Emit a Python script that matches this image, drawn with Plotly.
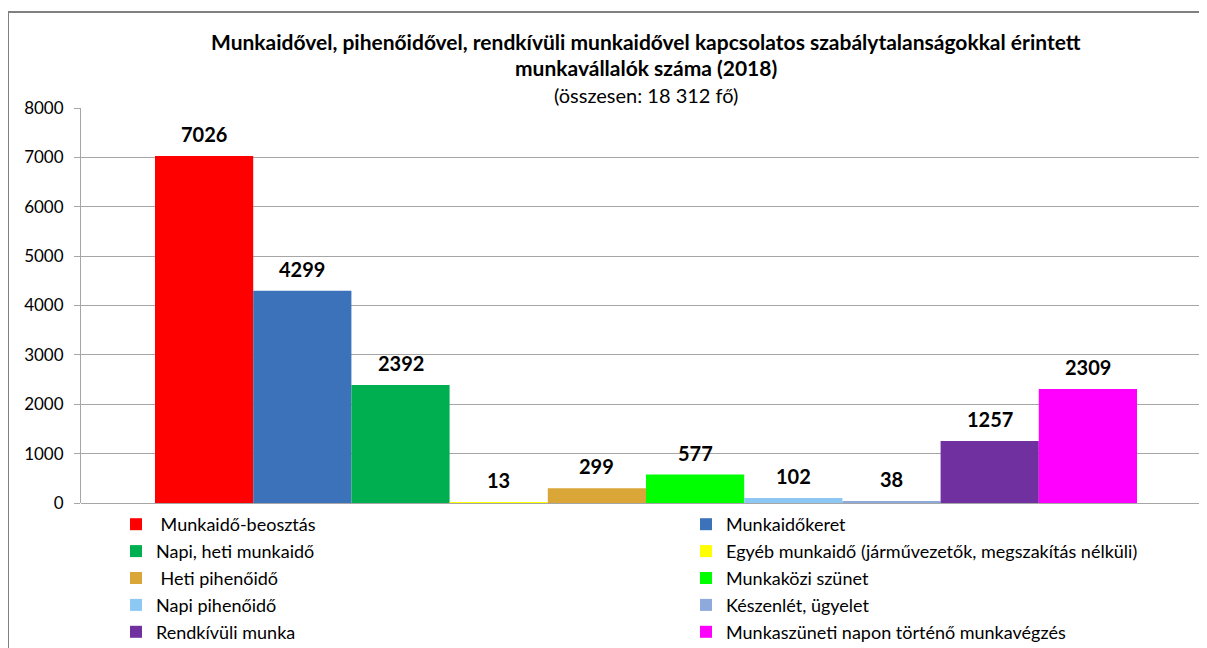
import plotly.graph_objects as go

categories = ["Munkaidő-beosztás", "Munkaidőkeret", "Napi, heti munkaidő",
              "Egyéb munkaidő (járművezetők, megszakítás nélküli)", "Heti pihenőidő",
              "Munkaközi szünet", "Napi pihenőidő", "Készenlét, ügyelet",
              "Rendkívüli munka", "Munkaszüneti napon történő munkavégzés"]
legend_labels = [" Munkaidő-beosztás", "Munkaidőkeret", "Napi, heti munkaidő",
                 "Egyéb munkaidő (járművezetők, megszakítás nélküli)", " Heti pihenőidő",
                 "Munkaközi szünet", "Napi pihenőidő", "Készenlét, ügyelet",
                 "Rendkívüli munka", "Munkaszüneti napon történő munkavégzés"]
values = [7026, 4299, 2392, 13, 299, 577, 102, 38, 1257, 2309]
colors = ["#FF0000", "#3B72B9", "#00B050", "#FFFF00", "#D9A637",
          "#00FF00", "#8DC8F5", "#8EA9DB", "#7030A0", "#FF00FF"]
y_ticks = [0, 1000, 2000, 3000, 4000, 5000, 6000, 7000, 8000]

FONT = "Lato"

# page offset (browser body margin)
OFF = 8
W, H = 1207 - OFF, 648 - OFF
# desired page-pixel geometry
P_LEFT, P_RIGHT, P_TOP, P_BOTTOM = 81, 1207, 108, 503
L = P_LEFT - OFF
T = P_TOP - OFF
R = W - (P_RIGHT - OFF)
B = H - (P_BOTTOM - OFF)
pw = W - L - R
ph = H - T - B
unit = 1130.0  # pixels per category slot
bargap = 1 - 982 / unit

def px_x(p):
    return (p - P_LEFT) / pw

def px_y(p):
    return (P_BOTTOM - p) / ph

fig = go.Figure()
n = len(values)
for i, (lab, v, c) in enumerate(zip(legend_labels, values, colors)):
    fig.add_trace(go.Bar(
        x=[""], y=[v], name=lab, marker=dict(color=c, line=dict(width=0)),
        legend="legend" if i % 2 == 0 else "legend2",
        legendgroup=f"g{i}", hoverinfo="name+y",
    ))
    # data label above each bar, placed through the axes
    fig.add_annotation(
        text=f"<b>{v}</b>", xref="x", yref="y",
        x=(i - (n - 1) / 2) * (1 - bargap) / n, y=v,
        xanchor="center", yanchor="bottom", yshift=8, showarrow=False,
        font=dict(family=FONT, size=20, color="#000000"))

legend_common = dict(
    orientation="v", traceorder="grouped", tracegroupgap=0.5,
    font=dict(family=FONT, size=18, color="#000000"),
    bgcolor="rgba(0,0,0,0)", xanchor="left", yanchor="top",
    itemclick=False, itemdoubleclick=False, itemwidth=30,
)

fig.update_layout(
    width=W, height=H,
    margin=dict(l=L, r=R, t=T, b=B, pad=0, autoexpand=False),
    paper_bgcolor="#FFFFFF", plot_bgcolor="#FFFFFF",
    barmode="group", bargap=bargap, bargroupgap=0,
    font=dict(family=FONT, size=16, color="#000000"),
    showlegend=True,
    legend=dict(x=px_x(116), y=px_y(506), **legend_common),
    legend2=dict(x=px_x(686), y=px_y(506), **legend_common),
    xaxis=dict(type="category", range=[-0.5, -0.5 + pw / unit], showticklabels=False,
               showgrid=False, zeroline=False, showline=False, fixedrange=True),
    yaxis=dict(range=[0, 8000], tickvals=y_ticks, ticks="outside", ticklen=6,
               tickcolor="#A6A6A6", showline=True, linecolor="#A6A6A6", linewidth=1,
               showgrid=True, gridcolor="#A6A6A6", gridwidth=1,
               zeroline=True, zerolinecolor="#A6A6A6", zerolinewidth=1,
               tickfont=dict(family=FONT, size=17, color="#000000"),
               ticklabelstandoff=7, fixedrange=True),
)

fig.add_annotation(text="<b>Munkaidővel, pihenőidővel, rendkívüli munkaidővel kapcsolatos szabálytalanságokkal érintett</b>",
                   xref="paper", yref="paper", x=px_x(646), y=px_y(41),
                   xanchor="center", yanchor="middle", showarrow=False,
                   font=dict(family=FONT, size=21, color="#000000"))
fig.add_annotation(text="<b>munkavállalók száma (2018)</b>",
                   xref="paper", yref="paper", x=px_x(646), y=px_y(68),
                   xanchor="center", yanchor="middle", showarrow=False,
                   font=dict(family=FONT, size=21, color="#000000"))
fig.add_annotation(text="(összesen: 18 312 fő)",
                   xref="paper", yref="paper", x=px_x(646), y=px_y(95),
                   xanchor="center", yanchor="middle", showarrow=False,
                   font=dict(family=FONT, size=20, color="#000000"))

fig.add_shape(type="rect", xref="paper", yref="paper",
              x0=px_x(8), y0=px_y(700), x1=px_x(1260), y1=px_y(12),
              line=dict(color="#808080", width=2), fillcolor="rgba(0,0,0,0)", layer="below")

fig.write_html("out.html")
